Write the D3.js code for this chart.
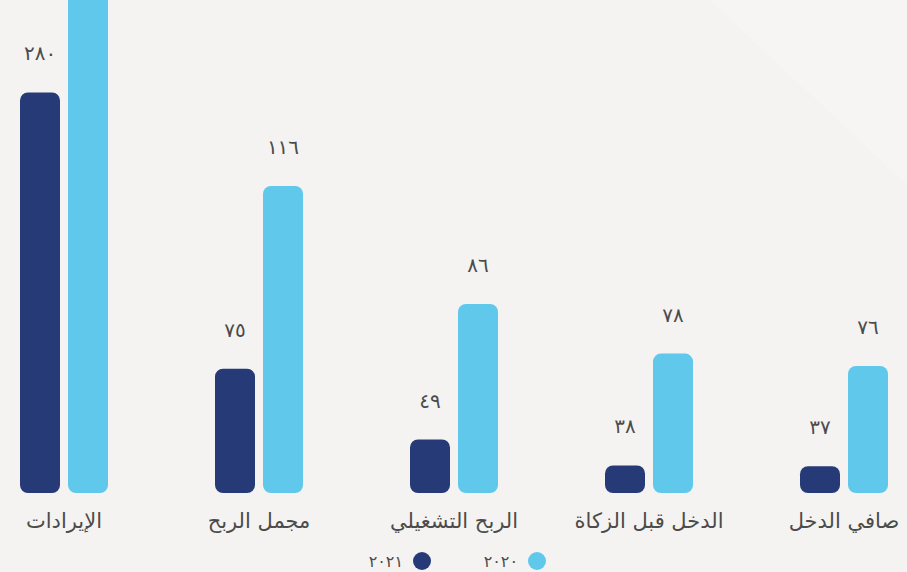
<!DOCTYPE html>
<html lang="ar">
<head>
<meta charset="utf-8">
<script src="https://cdn.jsdelivr.net/npm/d3@7"></script>
<style>
    html, body { margin: 0; padding: 0; background: #f4f3f1; overflow: hidden; }
    svg { display: block; }
    text { font-family: "DejaVu Sans", sans-serif; fill: #4b4b4b; }
</style>
</head>
<body>
<div id="chart"></div>
<script>
// Chart data (values in million riyals)
const categories = ["الإيرادات", "مجمل الربح", "الربح التشغيلي", "الدخل قبل الزكاة", "صافي الدخل"];
const years = ["2021", "2020"];
const values2021 = [280, 75, 49, 38, 37];
const values2020 = [412, 116, 86, 78, 76]; // first bar is cut off in the picture, estimated

const width = 907;
const height = 572;
const baseline = 493;

const colors = {"2021": "#263a77", "2020": "#5fc8eb"};

// The picture does not draw bars proportionally: a compressed display scale
const heightScale = d3.scaleLinear()
    .domain([0, 40, 76, 86, 116, 300, 450])
    .range([0, 29, 127, 189, 307, 412, 560]);

const toArabic = n => String(n).replace(/\d/g, d => "٠١٢٣٤٥٦٧٨٩"[d]);

const data = categories.map((c, i) => ({
    category: c,
    values: [
        {year: "2021", value: values2021[i]},
        {year: "2020", value: values2020[i]}
    ]
}));

const svg = d3.select("#chart")
    .append("svg")
    .attr("width", width)
    .attr("height", height);

// Background with a faint lighter diagonal panel
svg.append("rect")
    .attr("width", width)
    .attr("height", height)
    .attr("fill", "#f4f3f1");
svg.append("path")
    .attr("d", `M710,0 L${width},0 L${width},185 Z`)
    .attr("fill", "#f6f5f3");

const x0 = d3.scalePoint()
    .domain(categories)
    .range([64, 844]);

const x1 = d3.scaleBand()
    .domain(years)
    .range([-44, 44])
    .paddingInner(8 / 48);

const groups = svg.selectAll(".group")
    .data(data)
    .join("g")
    .attr("class", "group")
    .attr("transform", d => `translate(${x0(d.category)},0)`);

groups.selectAll("rect")
    .data(d => d.values)
    .join("rect")
    .attr("x", d => x1(d.year))
    .attr("y", d => baseline - heightScale(d.value))
    .attr("width", x1.bandwidth())
    .attr("height", d => heightScale(d.value))
    .attr("rx", 8)
    .attr("ry", 8)
    .attr("fill", d => colors[d.year]);

// Value labels above bars (skip those that fall above the visible area)
groups.selectAll(".value-label")
    .data(d => d.values.filter(v => baseline - heightScale(v.value) - 32 > 20))
    .join("text")
    .attr("class", "value-label")
    .attr("x", d => x1(d.year) + x1.bandwidth() / 2)
    .attr("y", d => baseline - heightScale(d.value) - 32)
    .attr("text-anchor", "middle")
    .style("font-size", "20px")
    .text(d => toArabic(d.value));

// Category labels
groups.append("text")
    .attr("class", "category-label")
    .attr("y", 528)
    .attr("text-anchor", "middle")
    .attr("direction", "rtl")
    .style("font-size", "21px")
    .text(d => d.category);

// Legend
const legend = svg.append("g").attr("class", "legend");
const legendItems = [
    {year: "2021", cx: 422},
    {year: "2020", cx: 537}
];
legend.selectAll("circle")
    .data(legendItems)
    .join("circle")
    .attr("cx", d => d.cx)
    .attr("cy", 561)
    .attr("r", 9)
    .attr("fill", d => colors[d.year]);
legend.selectAll("text")
    .data(legendItems)
    .join("text")
    .attr("x", d => d.cx - 19)
    .attr("y", 567)
    .attr("text-anchor", "end")
    .style("font-size", "16px")
    .text(d => toArabic(d.year));
</script>
</body>
</html>
